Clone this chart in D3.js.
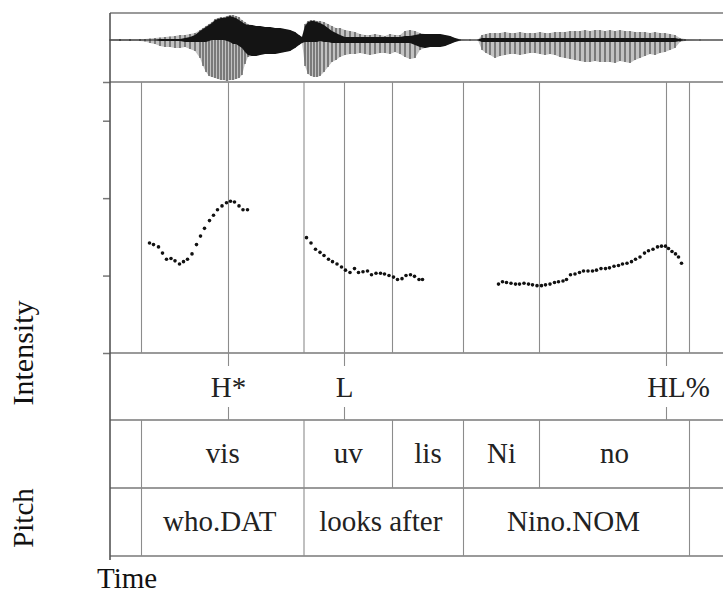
<!DOCTYPE html>
<html>
<head>
<meta charset="utf-8">
<script src="https://cdn.jsdelivr.net/npm/d3@7"></script>
<style>
  body { margin: 0; background: #fff; }
  svg { display: block; font-family: "Liberation Serif", "Times New Roman", serif; }
</style>
</head>
<body>
<svg id="chart" width="723" height="593"></svg>
<script>
// waveform envelope (time in s, amplitude in arbitrary units)
const waveTime = [0.000,0.020,0.040,0.060,0.070,0.080,0.090,0.100,0.110,0.120,0.130,0.140,0.150,0.160,0.170,
  0.180,0.186,0.192,0.198,0.204,0.210,0.216,0.222,0.228,0.234,0.240,0.246,0.252,0.258,0.264,0.270,0.276,
  0.284,0.292,0.300,0.310,0.320,0.330,0.340,0.350,0.360,0.370,0.378,0.384,
  0.390,0.396,0.402,0.408,0.414,0.420,0.428,0.436,0.444,0.452,0.460,0.470,0.480,0.490,0.500,0.510,0.520,
  0.530,0.540,0.550,0.560,0.570,0.580,0.590,0.600,0.610,0.620,0.630,0.640,0.650,0.660,0.670,0.680,0.690,
  0.700,0.720,0.736,0.744,0.752,0.760,0.770,0.780,0.790,0.800,0.810,0.820,0.830,0.840,0.850,0.860,0.870,
  0.880,0.890,0.900,0.910,0.920,0.930,0.940,0.950,0.960,0.970,0.980,0.990,1.000,1.010,1.020,1.030,1.040,
  1.050,1.060,1.070,1.080,1.090,1.100,1.110,1.120,1.130,1.140,1.150,1.180,1.260]
const waveTop = [1,1,1,1,1,1.5,2,2.5,3,3.5,4,5,5,6,7,
  10,12,14,16,18,21,22,23,23,24,25,25,24,23,20,18,16,
  15,14,14,13,13,12,12,11,10,8,5,3,
  16,19,20,20,19,19,18,16,14,12,12,10,9,8,6,5,5,
  6,5,4,6,5,5,9,10,9,7,6,6,6,6,5,4,2,
  1,0.5,0.5,5,6,7,7,7,8,7,7,8,7,7,7,8,7,
  7,8,8,8,9,9,9,10,9,10,10,9,10,9,10,9,9,
  8,8,8,7,8,7,7,6,5,2,1,0.5,0.5]
const waveBottom = [-1,-1,-1,-1,-1.5,-3,-4,-6,-7,-7,-8,-8,-7,-9,-11,
  -18,-26,-32,-36,-37,-38,-39,-40,-40,-41,-40,-40,-39,-38,-35,-24,-17,
  -16,-16,-15,-14,-14,-14,-13,-12,-11,-8,-5,-3,
  -26,-34,-36,-37,-37,-36,-32,-27,-22,-20,-17,-15,-14,-14,-13,-14,-15,
  -14,-13,-13,-14,-12,-14,-17,-19,-18,-10,-8,-7,-7,-7,-6,-4,-2,
  -1,-0.5,-0.5,-10,-13,-15,-18,-16,-15,-14,-14,-15,-14,-13,-13,-14,-15,
  -14,-15,-17,-18,-19,-20,-21,-22,-22,-21,-22,-22,-22,-23,-21,-22,-23,
  -20,-18,-16,-14,-15,-13,-12,-10,-8,-2,-1,-0.5,-0.5]
// dense dark core of the waveform
const coreTop = [0.5,0.5,0.5,0.5,0.5,0.5,0.5,1,1,1,1,1,2,3,5,
  9,11,13,15,17,20,21,22,22,23,24,23,22,20,18,16,15,
  15,14,14,13,13,12,12,11,10,8,5,3,
  14,18,19,19,18,17,15,12,9,7,5,3,3,3,3,3,3,
  3,3,3,3,3,3,4,4,5,6,6,6,6,6,5,4,2,
  0.5,0.5,0.5,2,2,2,2,2,2,2,2,2,2,2,2,2,2,
  2,2,2,2,2,2,2,2,2,2,2,2,2,2,2,2,2,
  2,2,2,2,2,2,2,2,2,1,0.5,0.5,0.5]
const coreBottom = [-0.5,-0.5,-0.5,-0.5,-0.5,-0.5,-0.5,-1,-1,-1,-1,-1,-2,-2,-2,
  -2,-2,-2,-1,0,0,0,0,0,-1,-2,-4,-4,-6,-8,-12,-15,
  -16,-16,-15,-14,-14,-14,-13,-12,-11,-8,-5,-3,
  -2,-2,-2,-2,-2,-1,-2,-2,-3,-3,-3,-3,-3,-3,-3,-3,-3,
  -3,-3,-3,-3,-3,-3,-3,-3,-5,-7,-8,-7,-7,-7,-6,-4,-2,
  -0.5,-0.5,-0.5,-2,-2,-2,-2,-2,-2,-2,-2,-2,-2,-2,-2,-2,-2,
  -2,-2,-2,-2,-2,-2,-2,-2,-2,-2,-2,-2,-2,-2,-2,-2,-2,
  -2,-2,-2,-2,-2,-2,-2,-2,-2,-1,-0.5,-0.5,-0.5]

// pitch track (s, Hz)
const pitchTime = [0.079,0.087,0.097,0.105,0.113,0.122,0.130,0.139,0.147,0.155,0.164,0.173,0.181,0.189,
  0.199,0.207,0.215,0.224,0.233,0.241,0.249,0.258,0.266,0.275,
  0.393,0.402,0.411,0.420,0.428,0.437,0.445,0.454,0.463,0.471,0.480,0.489,0.497,0.506,0.515,0.523,
  0.532,0.541,0.549,0.558,0.567,0.575,0.584,0.592,0.601,0.609,0.618,0.625,
  0.777,0.785,0.793,0.802,0.811,0.819,0.828,0.837,0.845,0.854,0.863,0.871,0.880,0.889,0.897,0.906,
  0.913,0.921,0.930,0.939,0.947,0.956,0.965,0.973,0.982,0.991,0.999,1.008,1.017,1.025,1.034,1.043,
  1.051,1.060,1.069,1.077,1.086,1.095,1.103,1.111,1.117,1.124,1.131,1.137,1.143]
const pitchHz = [142,140,137,129,121,122,119,115,118,121,128,140,151,161,
  171,178,185,190,194,196,195,190,185,185,
  149,142,134,130,126,121,118,115,111,107,104,109,104,105,106,101,
  103,103,102,100,98,95,96,100,101,99,95,95,
  89,92,91,90,89,89,90,89,88,87,87,88,89,91,92,93,
  95,101,102,104,106,106,106,107,109,109,110,112,113,115,116,118,
  121,124,129,132,134,137,138,138,135,131,128,124,116]
const pitchTicks = [0, 100, 200, 300, 350]

// annotation tiers
const tones = ["H*", "L", "HL%"]
const toneTimes = [0.237, 0.469, 1.113]
const syllables = ["vis", "uv", "lis", "Ni", "no"]
const syllableBounds = [0.063, 0.388, 0.565, 0.707, 0.859, 1.159]
const words = ["who.DAT", "looks after", "Nino.NOM"]
const wordBounds = [0.063, 0.388, 0.707, 1.159]

const svg = d3.select('#chart')
const width = 723
const left = 110
const waveTopY = 13, waveBotY = 82
const pitchBotY = 353
const tierH = [353, 420, 488, 556]

const x = d3.scaleLinear().domain([0, 1.26]).range([left, 740])
const yPitch = d3.scaleLinear().domain([0, 350]).range([pitchBotY, waveBotY])
const yAmp = d3.scaleLinear().domain([-40, 40]).range([80, 0])

const wave = waveTime.map((t, i) => ({t, top: waveTop[i], bot: waveBottom[i], ct: coreTop[i], cb: coreBottom[i]}))

const gridColor = '#9a9a9a'
const lineColor = '#8c8c8c'

// waveform
svg.append('path')
  .datum(wave)
  .attr('fill', '#c2c2c2')
  .attr('d', d3.area().x(d => x(d.t)).y0(d => yAmp(d.bot)).y1(d => yAmp(d.top)))

svg.append('g')
  .selectAll('line')
  .data(wave)
  .join('line')
  .attr('x1', d => x(d.t)).attr('x2', d => x(d.t))
  .attr('y1', d => yAmp(d.top)).attr('y2', d => yAmp(d.bot))
  .attr('stroke', '#4a4a4a')
  .attr('stroke-width', 1.2)

svg.append('path')
  .datum(wave)
  .attr('fill', '#141414')
  .attr('d', d3.area().x(d => x(d.t)).y0(d => yAmp(d.cb)).y1(d => yAmp(d.ct)))

// horizontal frame lines
const hLines = [waveTopY, waveBotY, ...tierH]
svg.append('g')
  .selectAll('line')
  .data(hLines)
  .join('line')
  .attr('x1', left).attr('x2', width)
  .attr('y1', d => d).attr('y2', d => d)
  .attr('stroke', gridColor)
  .attr('stroke-width', 1.8)

// vertical lines in pitch panel
const pitchLines = [...syllableBounds, ...toneTimes]
svg.append('g')
  .selectAll('line')
  .data(pitchLines)
  .join('line')
  .attr('x1', d => x(d)).attr('x2', d => x(d))
  .attr('y1', waveBotY).attr('y2', pitchBotY)
  .attr('stroke', lineColor)
  .attr('stroke-width', 1.1)

// point tier ticks
const tickLen = 13
svg.append('g')
  .selectAll('line')
  .data(toneTimes.flatMap(t => [[t, tierH[0], tierH[0] + tickLen], [t, tierH[1] - tickLen, tierH[1]]]))
  .join('line')
  .attr('x1', d => x(d[0])).attr('x2', d => x(d[0]))
  .attr('y1', d => d[1]).attr('y2', d => d[2])
  .attr('stroke', lineColor)
  .attr('stroke-width', 1.1)

// interval tier boundaries
svg.append('g')
  .selectAll('line')
  .data(syllableBounds)
  .join('line')
  .attr('x1', d => x(d)).attr('x2', d => x(d))
  .attr('y1', tierH[1]).attr('y2', tierH[2])
  .attr('stroke', lineColor)
  .attr('stroke-width', 1.1)

svg.append('g')
  .selectAll('line')
  .data(wordBounds)
  .join('line')
  .attr('x1', d => x(d)).attr('x2', d => x(d))
  .attr('y1', tierH[2]).attr('y2', tierH[3])
  .attr('stroke', lineColor)
  .attr('stroke-width', 1.1)

// left axis
const yAxis = d3.axisLeft(yPitch).tickValues(pitchTicks).tickSize(7).tickFormat('')
const ax = svg.append('g')
  .attr('transform', `translate(${left}, 0)`)
  .call(yAxis)
ax.select('.domain').remove()
ax.selectAll('.tick line').attr('stroke', '#777').attr('stroke-width', 1.5)

svg.append('line')
  .attr('x1', left).attr('x2', left)
  .attr('y1', waveTopY).attr('y2', tierH[3] + 4)
  .attr('stroke', '#555')
  .attr('stroke-width', 1.6)

// pitch dots
svg.append('g')
  .selectAll('circle')
  .data(pitchTime)
  .join('circle')
  .attr('cx', d => x(d))
  .attr('cy', (d, i) => yPitch(pitchHz[i]))
  .attr('r', 1.8)
  .attr('fill', '#111')

// labels
const fontSize = 29
const toneText = svg.append('g')
  .selectAll('text')
  .data(tones)
  .join('text')
  .attr('y', 397)
  .attr('font-size', fontSize)
  .attr('fill', '#222')
toneText.append('tspan').attr('class', 'main').text(d => d.replace('%', ''))
toneText.append('tspan').text(d => d.includes('%') ? '%' : '')
toneText.each(function(d, i) {
  const w = d3.select(this).select('.main').node().getComputedTextLength()
  d3.select(this).attr('x', x(toneTimes[i]) - w / 2)
})

svg.append('g')
  .selectAll('text')
  .data(syllables)
  .join('text')
  .attr('x', (d, i) => (x(syllableBounds[i]) + x(syllableBounds[i + 1])) / 2)
  .attr('y', 463)
  .attr('text-anchor', 'middle')
  .attr('font-size', fontSize)
  .attr('fill', '#222')
  .text(d => d)

svg.append('g')
  .selectAll('text')
  .data(words)
  .join('text')
  .attr('x', (d, i) => (x(wordBounds[i]) + x(wordBounds[i + 1])) / 2 - 3)
  .attr('y', 531)
  .attr('text-anchor', 'middle')
  .attr('font-size', fontSize)
  .attr('fill', '#222')
  .text(d => d)

svg.append('text')
  .attr('transform', 'translate(33, 353) rotate(-90)')
  .attr('text-anchor', 'middle')
  .attr('font-size', fontSize + 1)
  .attr('fill', '#111')
  .text('Intensity')

svg.append('text')
  .attr('transform', 'translate(33, 518) rotate(-90)')
  .attr('text-anchor', 'middle')
  .attr('font-size', fontSize)
  .attr('fill', '#111')
  .text('Pitch')

svg.append('text')
  .attr('x', 97)
  .attr('y', 588)
  .attr('font-size', fontSize)
  .attr('fill', '#111')
  .text('Time')
</script>
</body>
</html>
